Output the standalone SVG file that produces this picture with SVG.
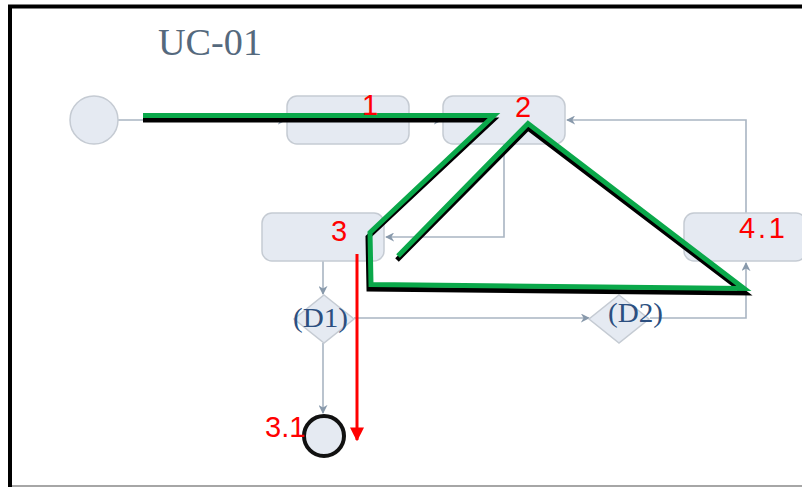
<svg xmlns="http://www.w3.org/2000/svg" width="802" height="487" viewBox="0 0 802 487">
<defs>
<style>
.node{fill:#e5eaf2;stroke:#c5cbd3;stroke-width:1.5}
.conn{fill:none;stroke:#a9b5c2;stroke-width:1.6}
.red{fill:#ff0000;font-family:"Liberation Sans",Arial,sans-serif;font-size:29px}
.dlab{fill:#2c4f80;font-family:"Liberation Serif","Times New Roman",serif;font-size:27px}
</style>
<marker id="ah" viewBox="0 0 10 10" refX="9" refY="5" markerWidth="9" markerHeight="9" markerUnits="userSpaceOnUse" orient="auto">
<path d="M0,0 L10,5 L0,10 L3,5 Z" fill="#8899ab"/>
</marker>
<marker id="rh" viewBox="0 0 10 10" refX="9" refY="5" markerWidth="14" markerHeight="14" markerUnits="userSpaceOnUse" orient="auto">
<path d="M0,0 L10,5 L0,10 Z" fill="#ff0000"/>
</marker>
</defs>
<rect x="0" y="0" width="802" height="487" fill="#ffffff"/>
<g id="frame">
<line x1="8" y1="6.5" x2="802" y2="6.5" stroke="#000" stroke-width="4"/>
<line x1="10" y1="5" x2="10" y2="487" stroke="#000" stroke-width="4"/>
<line x1="12" y1="486" x2="802" y2="486" stroke="#888" stroke-width="1.5"/>
</g>
<text x="158" y="55" font-family="Liberation Serif,'Times New Roman',serif" font-size="38" fill="#55697d" textLength="104" lengthAdjust="spacingAndGlyphs">UC-01</text>
<g id="connectors">
<line class="conn" x1="118" y1="120" x2="286" y2="120" marker-end="url(#ah)"/>
<line class="conn" x1="409" y1="120" x2="442" y2="120" marker-end="url(#ah)"/>
<polyline class="conn" points="504,144 504,237 386,237" marker-end="url(#ah)"/>
<line class="conn" x1="323" y1="261" x2="323" y2="294" marker-end="url(#ah)"/>
<line class="conn" x1="354" y1="318" x2="589" y2="318" marker-end="url(#ah)"/>
<polyline class="conn" points="650,318 746,318 746,263" marker-end="url(#ah)"/>
<polyline class="conn" points="746,213 746,120 567,120" marker-end="url(#ah)"/>
<line class="conn" x1="323" y1="343" x2="323" y2="413" marker-end="url(#ah)"/>
</g>
<g id="start"><circle cx="94" cy="120" r="24" class="node"/></g>
<g id="box1"><rect x="287" y="96" width="122" height="48" rx="10" class="node"/></g>
<g id="box2"><rect x="443" y="96" width="122" height="48" rx="10" class="node"/></g>
<g id="box3"><rect x="262" y="213" width="122" height="48" rx="10" class="node"/></g>
<g id="box41"><rect x="684" y="213" width="122" height="48" rx="10" class="node"/></g>
<g id="d1"><polygon points="324,295 354,319 324,343 294,319" class="node"/><text x="293" y="327" class="dlab" textLength="55" lengthAdjust="spacingAndGlyphs">(D1)</text></g>
<g id="d2"><polygon points="619,295 649,319 619,343 589,319" class="node"/><text x="608" y="322" class="dlab" textLength="55" lengthAdjust="spacingAndGlyphs">(D2)</text></g>
<g id="end"><circle cx="324" cy="436" r="20" fill="#e5eaf2" stroke="#111" stroke-width="4"/></g>
<g id="path">
<polyline points="143,120 493,120 368,237 369,289 745,293 528,128 397,260" fill="none" stroke="#000" stroke-width="5" stroke-linejoin="miter"/>
<polyline points="143,115.5 494,115.5 370,232.5 371,284.5 744,288.5 528,123.5 398,256" fill="none" stroke="#0aa84a" stroke-width="5" stroke-linejoin="miter"/>
<line x1="357" y1="254" x2="357" y2="440" stroke="#ff0000" stroke-width="3" marker-end="url(#rh)"/>
</g>
<g id="labels">
<text x="362" y="115" class="red">1</text>
<text x="515" y="117" class="red" font-size="30">2</text>
<text x="331" y="241" class="red" font-size="27">3</text>
<text x="739" y="238" class="red" font-size="26" textLength="46" lengthAdjust="spacing">4.1</text>
<text x="265" y="437" class="red" font-size="31">3.1</text>
</g>
</svg>
